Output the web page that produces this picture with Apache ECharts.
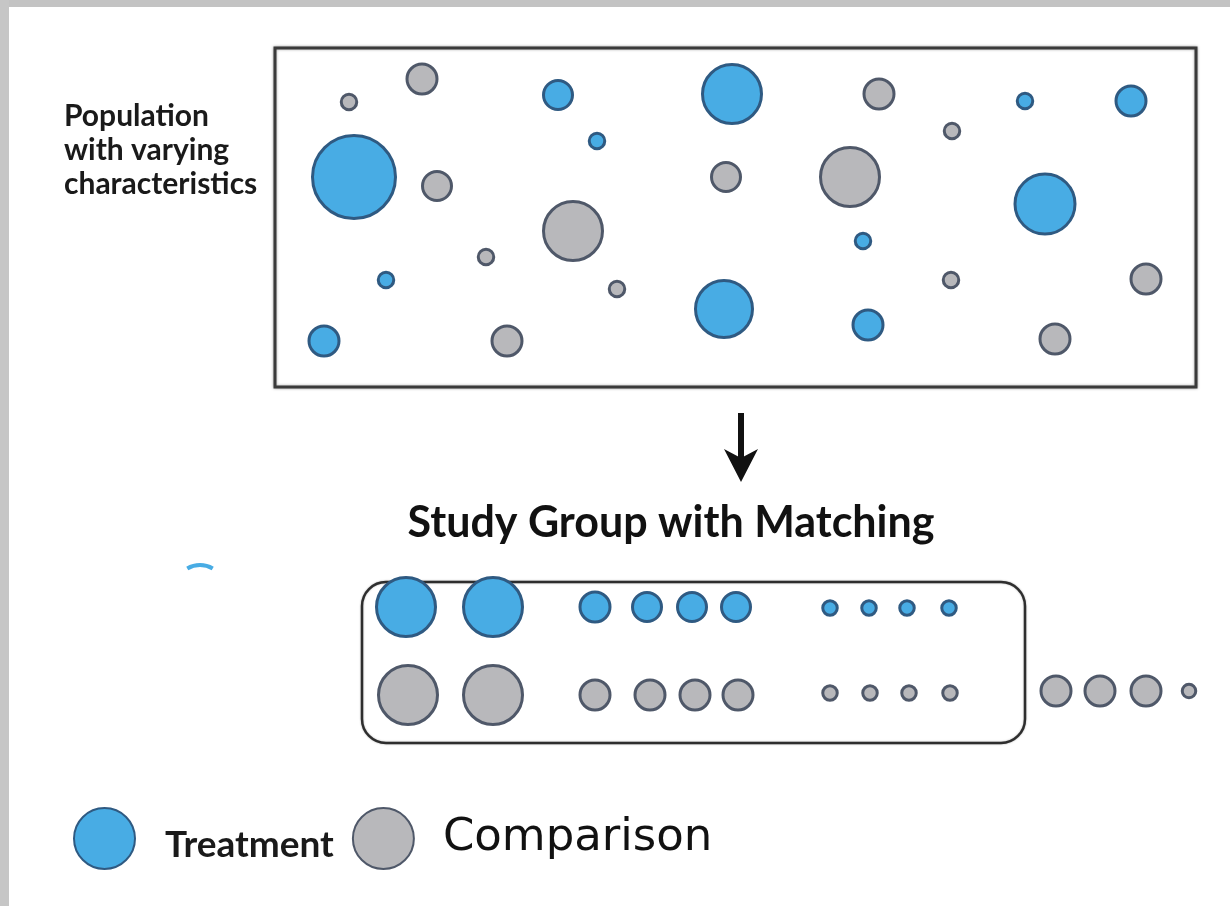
<!DOCTYPE html>
<html>
<head>
<meta charset="utf-8">
<script src="https://cdn.jsdelivr.net/npm/echarts@6/dist/echarts.min.js"></script>
<style>
  html, body { margin: 0; padding: 0; background: #ffffff; }
  #chart { width: 1230px; height: 906px; }
</style>
</head>
<body>
<div id="chart"></div>
<script>
// ---- data: each unit is [x position, y position, characteristic value] ----
const seriesNames = ['Treatment', 'Comparison'];

// Population with varying characteristics
const treatmentPopulation = [
  [558, 95, 32], [597, 141, 16], [354, 177, 86], [386, 280, 16], [324, 341, 33],
  [732, 94, 62], [724, 309, 60], [1025, 101, 16], [1131, 101, 33], [1045, 204, 63],
  [863, 241, 16], [868, 325, 33]
];
const comparisonPopulation = [
  [349, 102, 16], [422, 79, 33], [437, 186, 32], [573, 231, 62], [486, 257, 16],
  [617, 289, 16], [507, 341, 33], [726, 177, 32], [879, 94, 33], [952, 131, 16],
  [850, 177, 62], [951, 280, 16], [1146, 279, 33], [1055, 339, 33]
];

// Study group with matching
const treatmentMatched = [
  [406, 607, 62], [493, 607, 62], [595, 607, 33], [647, 607, 32], [692, 607, 32],
  [736, 607, 32], [830, 608, 15], [869, 608, 15], [907, 608, 15], [949, 608, 15]
];
const comparisonMatched = [
  [408, 695, 62], [493, 695, 62], [595, 695, 33], [650, 695, 33], [695, 695, 33],
  [738, 695, 33], [830, 693, 15], [870, 693, 15], [909, 693, 15], [950, 693, 15]
];
const comparisonUnmatched = [
  [1056, 691, 33], [1100, 691, 33], [1146, 691, 33], [1189, 691, 14]
];

const labelPopulation = 'Population\nwith varying\ncharacteristics';
const labelStudy = 'Study Group with Matching';

// ---- chart ----
const chart = echarts.init(document.getElementById('chart'), null, { renderer: 'canvas' });

const BLUE = '#48ace4', BLUE_EDGE = '#2f5a82';
const GRAY = '#b8b8bb', GRAY_EDGE = '#4f5869';

const sizeOf = v => (v[2] < 20 ? v[2] - 0.5 : v[2] - 3);

const option = {
  backgroundColor: '#ffffff',
  animation: false,
  grid: { left: 0, right: 0, top: 0, bottom: 0 },
  xAxis: { type: 'value', min: 0, max: 1230, show: false },
  yAxis: { type: 'value', min: 0, max: 906, inverse: true, show: false },
  legend: {
    left: 68, top: 802,
    itemWidth: 61, itemHeight: 61, itemGap: 18,
    icon: 'circle',
    data: seriesNames,
    formatter: name => name === 'Treatment' ? '{a|Treatment}' : '{b|Comparison}',
    textStyle: {
      rich: {
        a: { fontFamily: 'Lato', fontWeight: 'bold', fontSize: 37, color: '#1a1a1a', padding: [14, 0, 0, 25] },
        b: { fontFamily: 'DejaVu Sans', fontWeight: 'normal', fontSize: 45, color: '#111111', padding: [0, 0, 0, 24] }
      }
    }
  },
  graphic: [
    // frame bands
    { type: 'rect', shape: { x: 0, y: 0, width: 1230, height: 7 }, style: { fill: '#c3c3c3' }, silent: true },
    { type: 'rect', shape: { x: 0, y: 0, width: 9, height: 906 }, style: { fill: '#c6c6c6' }, silent: true },
    // population box
    { type: 'rect', z: 0, shape: { x: 275, y: 48, width: 921, height: 339 },
      style: { fill: '#ffffff', stroke: '#3a3a3a', lineWidth: 3, shadowBlur: 3, shadowColor: 'rgba(0,0,0,0.35)' }, silent: true },
    // study group box
    { type: 'rect', z: 0, shape: { x: 362, y: 582, width: 663, height: 161, r: 24 },
      style: { fill: '#ffffff', stroke: '#2e2e2e', lineWidth: 2.5, shadowBlur: 2, shadowColor: 'rgba(0,0,0,0.3)' }, silent: true },
    // arrow
    { type: 'line', shape: { x1: 741, y1: 413, x2: 741, y2: 468 }, style: { stroke: '#111', lineWidth: 6 }, silent: true },
    { type: 'polygon', shape: { points: [[724, 449], [741, 458], [758, 449], [741, 482]] }, style: { fill: '#111' }, silent: true },
    // small stray arc fragment
    { type: 'arc', shape: { cx: 200, cy: 590, r: 25, startAngle: Math.PI * 1.33, endAngle: Math.PI * 1.67 },
      style: { stroke: '#48ace4', lineWidth: 4, fill: null }, silent: true },
    // texts
    { type: 'text', left: 64, top: 99,
      style: { text: labelPopulation, font: 'bold 30px Lato', fill: '#1a1a1a', lineHeight: 34 }, silent: true },
    { type: 'text', style: { x: 671, y: 523, text: labelStudy, font: 'bold 43px Lato', fill: '#111',
      textAlign: 'center', textVerticalAlign: 'middle' }, silent: true }
  ],
  series: [
    {
      name: 'Treatment', type: 'scatter', z: 3,
      data: treatmentPopulation.concat(treatmentMatched),
      symbol: 'circle', symbolSize: sizeOf,
      itemStyle: { color: BLUE, borderColor: BLUE_EDGE, borderWidth: 3, opacity: 1 },
      emphasis: { disabled: true }
    },
    {
      name: 'Comparison', type: 'scatter', z: 3,
      data: comparisonPopulation.concat(comparisonMatched, comparisonUnmatched),
      symbol: 'circle', symbolSize: sizeOf,
      itemStyle: { color: GRAY, borderColor: GRAY_EDGE, borderWidth: 3, opacity: 1 },
      emphasis: { disabled: true }
    }
  ]
};
chart.setOption(option);
</script>
</body>
</html>
